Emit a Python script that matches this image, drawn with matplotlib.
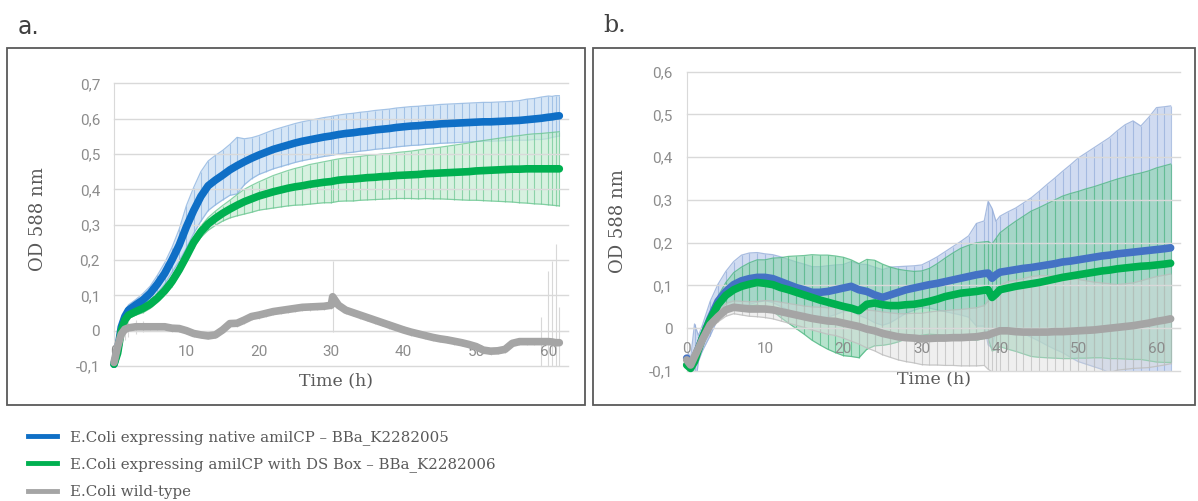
import numpy as np
import matplotlib
matplotlib.use("Agg")
import matplotlib.pyplot as plt
from matplotlib.patches import Rectangle
from matplotlib.lines import Line2D
from matplotlib.ticker import FuncFormatter

# ---- panel a : growth curves (OD 588 nm), mean and standard deviation ----
ta = [0, 0.5, 1, 1.5, 2, 3, 4, 5, 6, 7, 8, 9, 10, 11, 12, 13, 14, 15, 16, 17,
      18, 19, 20, 21, 22, 23, 24, 25, 26, 27, 28, 29, 30, 30.2, 31, 32, 33, 34,
      35, 36, 37, 38, 39, 40, 41, 42, 43, 44, 45, 46, 47, 48, 49, 50, 51, 52,
      53, 54, 55, 56, 57, 58, 59, 60, 60.5, 61, 61.5]

a_native = [-0.095, -0.055, 0.01, 0.04, 0.058, 0.073, 0.087, 0.106, 0.132, 0.162,
            0.2, 0.242, 0.294, 0.34, 0.38, 0.41, 0.426, 0.44, 0.455, 0.467,
            0.478, 0.488, 0.497, 0.505, 0.513, 0.519, 0.525, 0.531, 0.536, 0.54,
            0.544, 0.548, 0.551, 0.552, 0.555, 0.558, 0.56, 0.563, 0.565, 0.568,
            0.57, 0.572, 0.575, 0.577, 0.579, 0.58, 0.582, 0.583, 0.585, 0.586,
            0.587, 0.588, 0.589, 0.59, 0.591, 0.591, 0.592, 0.593, 0.594, 0.595,
            0.597, 0.599, 0.601, 0.604, 0.605, 0.607, 0.608]
a_native_sd = [0.015, 0.015, 0.015, 0.015, 0.015, 0.015, 0.018, 0.02, 0.025, 0.03,
               0.035, 0.045, 0.06, 0.065, 0.07, 0.07, 0.07, 0.07, 0.072, 0.08,
               0.065, 0.058, 0.055, 0.055, 0.055, 0.055, 0.055, 0.055, 0.055, 0.055,
               0.055, 0.055, 0.055, 0.055, 0.055, 0.055, 0.055, 0.055, 0.055, 0.055,
               0.055, 0.055, 0.055, 0.055, 0.055, 0.055, 0.055, 0.055, 0.055, 0.055,
               0.055, 0.055, 0.055, 0.055, 0.055, 0.055, 0.055, 0.055, 0.055, 0.056,
               0.058, 0.058, 0.06, 0.06, 0.058, 0.058, 0.057]

a_dsbox = [-0.095, -0.064, 0.0, 0.03, 0.044, 0.054, 0.063, 0.075, 0.092, 0.113,
           0.139, 0.172, 0.21, 0.25, 0.28, 0.302, 0.318, 0.332, 0.344, 0.355,
           0.365, 0.373, 0.381, 0.387, 0.393, 0.398, 0.403, 0.407, 0.41, 0.414,
           0.417, 0.42, 0.422, 0.423, 0.426, 0.428, 0.429, 0.431, 0.433, 0.434,
           0.436, 0.437, 0.439, 0.44, 0.441, 0.442, 0.444, 0.445, 0.446, 0.447,
           0.448, 0.449, 0.45, 0.452, 0.453, 0.454, 0.455, 0.456, 0.457, 0.457,
           0.458, 0.458, 0.458, 0.458, 0.458, 0.458, 0.458]
a_dsbox_sd = [0.01, 0.01, 0.01, 0.01, 0.01, 0.01, 0.012, 0.012, 0.012, 0.013,
              0.015, 0.015, 0.015, 0.015, 0.016, 0.018, 0.02, 0.022, 0.025, 0.03,
              0.035, 0.038, 0.04, 0.043, 0.046, 0.048, 0.05, 0.052, 0.054, 0.056,
              0.057, 0.058, 0.06, 0.06, 0.06, 0.061, 0.062, 0.062, 0.063, 0.063,
              0.064, 0.064, 0.065, 0.066, 0.067, 0.069, 0.07, 0.072, 0.073, 0.075,
              0.077, 0.079, 0.081, 0.083, 0.085, 0.087, 0.089, 0.091, 0.093, 0.095,
              0.097, 0.099, 0.1, 0.102, 0.103, 0.104, 0.105]

a_wild = [-0.09, -0.045, -0.01, 0.004, 0.008, 0.011, 0.011, 0.011, 0.011, 0.011,
          0.007, 0.006, 0.0, -0.008, -0.012, -0.015, -0.012, 0.002, 0.02, 0.021,
          0.03, 0.04, 0.044, 0.049, 0.054, 0.057, 0.06, 0.063, 0.066, 0.067,
          0.068, 0.069, 0.072, 0.096, 0.072, 0.058, 0.051, 0.044, 0.037, 0.03,
          0.023, 0.016, 0.009, 0.002, -0.004, -0.009, -0.014, -0.019, -0.023, -0.026,
          -0.03, -0.034, -0.039, -0.045, -0.055, -0.058, -0.057, -0.053, -0.036, -0.031,
          -0.031, -0.031, -0.031, -0.031, -0.032, -0.034, -0.034]
a_wild_sd = [0.02, 0.03, 0.03, 0.03, 0.025, 0.02, 0.015, 0.01, 0.01, 0.01,
             0.01, 0.01, 0.01, 0.01, 0.01, 0.01, 0.01, 0.01, 0.01, 0.01,
             0.01, 0.01, 0.01, 0.01, 0.01, 0.01, 0.01, 0.01, 0.01, 0.01,
             0.01, 0.01, 0.01, 0.1, 0.01, 0.01, 0.01, 0.01, 0.01, 0.01,
             0.01, 0.01, 0.01, 0.01, 0.01, 0.01, 0.01, 0.01, 0.01, 0.01,
             0.01, 0.01, 0.01, 0.01, 0.01, 0.01, 0.01, 0.01, 0.01, 0.01,
             0.01, 0.01, 0.07, 0.2, 0.23, 0.28, 0.1]

# ---- panel b ----
tb = [0, 0.5, 1, 1.5, 2, 3, 4, 5, 6, 7, 8, 9, 10, 11, 12, 13, 14, 15, 16, 17,
      18, 19, 20, 21, 22, 23, 24, 25, 26, 27, 28, 29, 30, 31, 32, 33, 34, 35,
      36, 37, 38, 38.5, 39, 39.5, 40, 41, 42, 43, 44, 45, 46, 47, 48, 49, 50,
      51, 52, 53, 54, 55, 56, 57, 58, 59, 60, 61, 61.8]

b_native = [-0.07, -0.09, -0.07, -0.047, -0.023, 0.023, 0.063, 0.086, 0.102, 0.111,
            0.116, 0.119, 0.119, 0.116, 0.109, 0.102, 0.095, 0.09, 0.084, 0.084,
            0.086, 0.09, 0.094, 0.098, 0.09, 0.086, 0.078, 0.072, 0.078, 0.084,
            0.09, 0.094, 0.098, 0.102, 0.105, 0.109, 0.113, 0.117, 0.121, 0.125,
            0.128, 0.129, 0.117, 0.125, 0.131, 0.134, 0.137, 0.14, 0.142, 0.145,
            0.148, 0.151, 0.155, 0.157, 0.16, 0.163, 0.166, 0.169, 0.171, 0.174,
            0.176, 0.178, 0.18, 0.182, 0.184, 0.186, 0.188]
b_native_sd = [0.02, 0.02, 0.08, 0.03, 0.03, 0.04, 0.04, 0.047, 0.054, 0.06,
               0.06, 0.058, 0.055, 0.056, 0.058, 0.059, 0.06, 0.06, 0.06, 0.06,
               0.06, 0.058, 0.055, 0.058, 0.06, 0.063, 0.065, 0.065, 0.065, 0.06,
               0.055, 0.052, 0.05, 0.055, 0.062, 0.07, 0.078, 0.086, 0.095, 0.12,
               0.123, 0.168, 0.163, 0.125, 0.131, 0.138, 0.144, 0.153, 0.163, 0.175,
               0.188, 0.2, 0.212, 0.225, 0.238, 0.247, 0.256, 0.265, 0.275, 0.288,
               0.3, 0.307, 0.293, 0.311, 0.332, 0.332, 0.332]

b_dsbox = [-0.086, -0.094, -0.078, -0.05, -0.023, 0.02, 0.055, 0.077, 0.09, 0.098,
           0.103, 0.107, 0.105, 0.102, 0.095, 0.09, 0.084, 0.078, 0.072, 0.066,
           0.061, 0.056, 0.051, 0.047, 0.041, 0.056, 0.059, 0.055, 0.053, 0.053,
           0.055, 0.056, 0.059, 0.063, 0.068, 0.074, 0.078, 0.082, 0.084, 0.086,
           0.089, 0.09, 0.072, 0.08, 0.09, 0.094, 0.098, 0.101, 0.104, 0.107,
           0.111, 0.115, 0.119, 0.122, 0.125, 0.128, 0.131, 0.134, 0.136, 0.139,
           0.141, 0.143, 0.145, 0.146, 0.148, 0.15, 0.152]
b_dsbox_sd = [0.01, 0.01, 0.01, 0.01, 0.01, 0.012, 0.02, 0.03, 0.04, 0.045,
              0.05, 0.053, 0.055, 0.062, 0.07, 0.078, 0.085, 0.092, 0.1, 0.105,
              0.11, 0.113, 0.115, 0.113, 0.11, 0.105, 0.1, 0.095, 0.09, 0.085,
              0.08, 0.077, 0.075, 0.077, 0.083, 0.09, 0.098, 0.105, 0.11, 0.114,
              0.113, 0.113, 0.125, 0.13, 0.133, 0.143, 0.152, 0.161, 0.17, 0.175,
              0.18, 0.185, 0.19, 0.193, 0.195, 0.198, 0.2, 0.203, 0.207, 0.21,
              0.213, 0.216, 0.218, 0.222, 0.227, 0.23, 0.232]

b_wild = [-0.074, -0.086, -0.066, -0.047, -0.027, 0.008, 0.027, 0.043, 0.049, 0.047,
          0.045, 0.045, 0.045, 0.043, 0.039, 0.035, 0.031, 0.027, 0.023, 0.02,
          0.017, 0.016, 0.012, 0.008, 0.004, -0.002, -0.006, -0.012, -0.016, -0.02,
          -0.022, -0.023, -0.025, -0.024, -0.023, -0.023, -0.022, -0.022, -0.021, -0.02,
          -0.017, -0.016, -0.012, -0.009, -0.006, -0.006, -0.008, -0.009, -0.009, -0.009,
          -0.009, -0.008, -0.008, -0.007, -0.006, -0.005, -0.004, -0.002, 0.0, 0.002,
          0.004, 0.006, 0.009, 0.012, 0.016, 0.019, 0.022]
b_wild_sd = [0.01, 0.01, 0.01, 0.01, 0.01, 0.01, 0.012, 0.015, 0.015, 0.016,
             0.017, 0.018, 0.02, 0.021, 0.022, 0.023, 0.024, 0.025, 0.027, 0.029,
             0.031, 0.033, 0.035, 0.038, 0.041, 0.044, 0.047, 0.05, 0.052, 0.054,
             0.056, 0.058, 0.06, 0.062, 0.063, 0.064, 0.065, 0.066, 0.067, 0.068,
             0.07, 0.08, 0.09, 0.1, 0.105, 0.115, 0.12, 0.125, 0.13, 0.132,
             0.132, 0.13, 0.128, 0.125, 0.12, 0.116, 0.112, 0.108, 0.104, 0.1,
             0.1, 0.1, 0.102, 0.104, 0.105, 0.105, 0.105]

labels = ["E.Coli expressing native amilCP \u2013 BBa_K2282005",
          "E.Coli expressing amilCP with DS Box \u2013 BBa_K2282006",
          "E.Coli wild-type"]

TICK_C = "#8c8c8c"
TEXT_C = "#595959"
GRID_C = "#d9d9d9"


def comma_fmt(v, pos):
    v = round(v, 2)
    if v == 0:
        return "0"
    return f"{v:.1f}".replace(".", ",")


def draw_series(ax, t, m, sd, band_c, edge_c, band_alpha, z, band=True):
    t = np.array(t)
    m = np.array(m)
    sd = np.array(sd)
    if band:
        ax.fill_between(t, m - sd, m + sd, color=band_c, alpha=band_alpha, lw=0, zorder=z)
        ax.plot(t, m + sd, color=edge_c, lw=0.9, alpha=0.8, zorder=z)
        ax.plot(t, m - sd, color=edge_c, lw=0.9, alpha=0.8, zorder=z)
    ax.vlines(t, m - sd, m + sd, colors=edge_c, lw=0.8, alpha=0.7, zorder=z)


def style_axes(ax, ymax, xmax, ylab_xy, xlab_xy):
    ax.set_xlim(0, xmax)
    ax.set_ylim(-0.1, ymax)
    ax.set_yticks(np.arange(-0.1, ymax + 0.001, 0.1))
    ax.set_xticks([0, 10, 20, 30, 40, 50, 60])
    ax.yaxis.set_major_formatter(FuncFormatter(comma_fmt))
    ax.yaxis.grid(True, color=GRID_C, lw=1, clip_on=False)
    ax.set_axisbelow(False)
    for s in ["top", "right"]:
        ax.spines[s].set_visible(False)
    ax.spines["bottom"].set_position(("data", 0))
    ax.spines["bottom"].set_color(GRID_C)
    ax.spines["left"].set_color(GRID_C)
    ax.tick_params(length=0, labelcolor=TICK_C, labelsize=11)
    ax.tick_params(axis="x", pad=10)
    ax.tick_params(axis="y", pad=10)
    for lab in ax.get_xticklabels() + ax.get_yticklabels():
        lab.set_fontfamily("Roboto")
    ax.set_ylabel("OD 588 nm", fontsize=13, color=TEXT_C, family="DejaVu Serif")
    ax.yaxis.set_label_coords(*ylab_xy)
    ax.set_xlabel("Time (h)", fontsize=12.5, color=TEXT_C, family="DejaVu Serif")
    ax.xaxis.set_label_coords(*xlab_xy)
    ax.xaxis.label.set_va("center")


W, H = 1198, 501
fig = plt.figure(figsize=(W / 100, H / 100), dpi=100)

# panel frames
fig.patches.append(Rectangle((7 / W, 1 - 405 / H), 578 / W, 357 / H, transform=fig.transFigure,
                             fill=False, ec="#595959", lw=1.3))
fig.patches.append(Rectangle((593 / W, 1 - 405 / H), 602 / W, 357 / H, transform=fig.transFigure,
                             fill=False, ec="#595959", lw=1.3))

ax1 = fig.add_axes([114 / W, 1 - 366 / H, 454 / W, 282.7 / H])
ax2 = fig.add_axes([686.7 / W, 1 - 371 / H, 493.3 / W, 299.3 / H])

# panel a
draw_series(ax1, ta, a_native, a_native_sd, "#c9def3", "#8db4e0", 0.75, 2)
draw_series(ax1, ta, a_dsbox, a_dsbox_sd, "#c6ecd4", "#6cc792", 0.7, 2.1)
draw_series(ax1, ta, a_wild, a_wild_sd, "#e4e4e4", "#c8c8c8", 0.7, 2.2, band=False)
for m, c in [(a_native, "#0f6fc6"), (a_dsbox, "#00b050"), (a_wild, "#a5a5a5")]:
    ax1.plot(ta, m, color=c, lw=5.5, solid_capstyle="round", solid_joinstyle="round",
             zorder=5, clip_on=False)
style_axes(ax1, 0.7, 62.7, (-0.148, 0.52), (0.489, -0.053))

# panel b
draw_series(ax2, tb, b_native, b_native_sd, "#c5d3ee", "#93acd9", 0.8, 2)
draw_series(ax2, tb, b_dsbox, b_dsbox_sd, "#8fd4b2", "#4fb882", 0.65, 2.1)
draw_series(ax2, tb, b_wild, b_wild_sd, "#dcdcdc", "#bdbdbd", 0.45, 2.2)
for m, c in [(b_native, "#4472c4"), (b_dsbox, "#00b050"), (b_wild, "#a5a5a5")]:
    ax2.plot(tb, m, color=c, lw=5.5, solid_capstyle="round", solid_joinstyle="round",
             zorder=5, clip_on=False)
style_axes(ax2, 0.6, 63, (-0.121, 0.5), (0.501, -0.027))

# panel letters
fig.text(18 / W, 1 - 27 / H, "a.", fontsize=17, color="#404040", va="center", family="DejaVu Sans")
fig.text(603 / W, 1 - 26 / H, "b.", fontsize=17, color="#404040", va="center", family="DejaVu Serif")

# legend
handles = [Line2D([], [], color=c, lw=3.5) for c in ["#0f6fc6", "#00b050", "#a5a5a5"]]
fig.legend(handles, labels, loc="upper left", bbox_to_anchor=(28 / W, 1 - 430 / H),
           frameon=False, borderpad=0, borderaxespad=0, handlelength=1.95,
           handletextpad=0.85, labelspacing=0.85, labelcolor=TEXT_C,
           prop={"family": "DejaVu Serif", "size": 10.8})

fig.savefig("out.png", dpi=100)
